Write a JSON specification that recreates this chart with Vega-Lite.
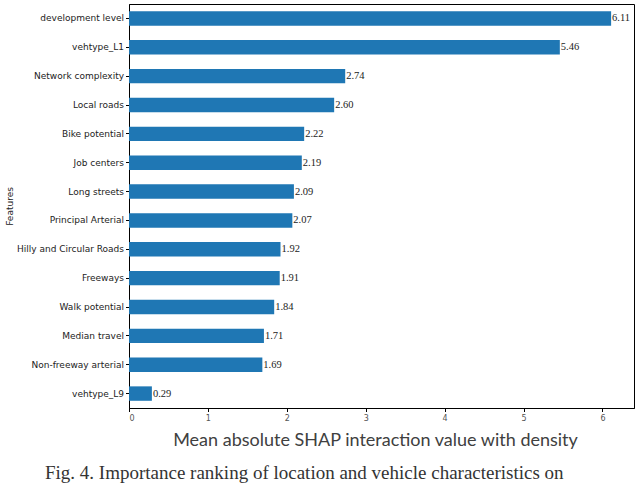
{
  "$schema": "https://vega.github.io/schema/vega-lite/v6.json",
  "autosize": {"type": "none"},
  "width": 505,
  "height": 404,
  "padding": {"left": 129, "top": 4, "right": 6, "bottom": 76},
  "background": "white",
  "config": {
    "view": {"stroke": "black", "strokeWidth": 1},
    "font": "DejaVu Sans"
  },
  "title": {
    "text": "Fig. 4. Importance ranking of location and vehicle characteristics on",
    "orient": "bottom",
    "anchor": "start",
    "frame": "group",
    "dx": -84,
    "offset": 14,
    "font": "Liberation Serif",
    "fontSize": 19,
    "fontWeight": "normal",
    "color": "#333333"
  },
  "data": {
    "values": [
      {"feature": "development level", "value": 6.11},
      {"feature": "vehtype_L1", "value": 5.46},
      {"feature": "Network complexity", "value": 2.74},
      {"feature": "Local roads", "value": 2.60},
      {"feature": "Bike potential", "value": 2.22},
      {"feature": "Job centers", "value": 2.19},
      {"feature": "Long streets", "value": 2.09},
      {"feature": "Principal Arterial", "value": 2.07},
      {"feature": "Hilly and Circular Roads", "value": 1.92},
      {"feature": "Freeways", "value": 1.91},
      {"feature": "Walk potential", "value": 1.84},
      {"feature": "Median travel", "value": 1.71},
      {"feature": "Non-freeway arterial", "value": 1.69},
      {"feature": "vehtype_L9", "value": 0.29}
    ]
  },
  "encoding": {
    "y": {
      "field": "feature",
      "type": "nominal",
      "sort": null,
      "scale": {"paddingInner": 0.5, "paddingOuter": 0.25},
      "axis": {
        "title": "Features",
        "titleFontSize": 9,
        "titleFontWeight": "normal",
        "titleColor": "#222222",
        "titlePadding": 2,
        "labelFontSize": 9,
        "labelColor": "#222222",
        "labelPadding": 2,
        "tickSize": 3.5,
        "tickColor": "black",
        "domainColor": "black",
        "ticks": true
      }
    },
    "x": {
      "field": "value",
      "type": "quantitative",
      "scale": {"domain": [0, 6.4], "nice": false, "zero": true},
      "axis": {
        "values": [0, 1, 2, 3, 4, 5, 6],
        "format": "d",
        "grid": false,
        "title": "Mean absolute SHAP interaction value with density",
        "titleFont": "Lato",
        "titleFontSize": 18,
        "titleFontWeight": "normal",
        "titleColor": "#404040",
        "titlePadding": 9,
        "titleX": 246,
        "labelFontSize": 8,
        "labelColor": "#555555",
        "labelPadding": 3,
        "tickSize": 3.5,
        "tickColor": "black",
        "domainColor": "black"
      }
    }
  },
  "layer": [
    {
      "mark": {"type": "bar", "color": "#1f77b4"}
    },
    {
      "mark": {"type": "text", "align": "left", "baseline": "middle", "dx": 1, "font": "Liberation Serif", "fontSize": 10.5, "color": "#222222"},
      "encoding": {
        "text": {"field": "value", "type": "quantitative", "format": ".2f"}
      }
    }
  ]
}
